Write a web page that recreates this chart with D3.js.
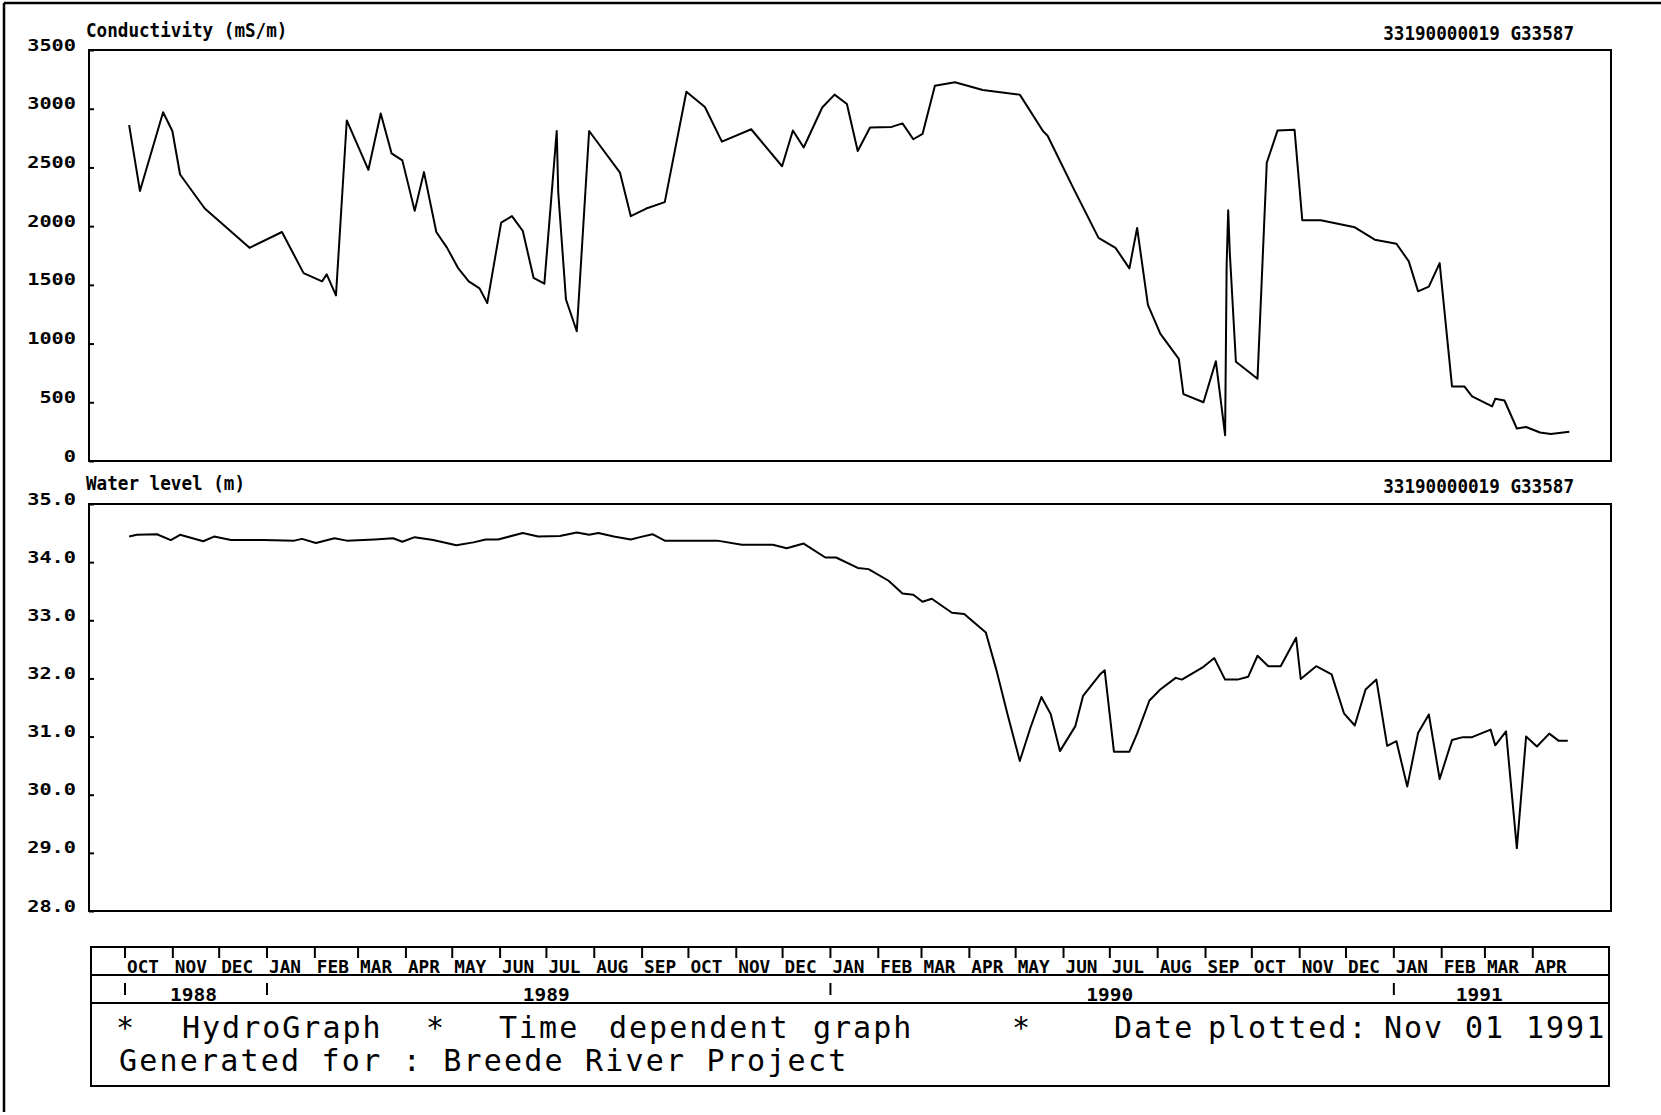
<!DOCTYPE html>
<html><head><meta charset="utf-8">
<script src="https://cdn.jsdelivr.net/npm/d3@7"></script>
<style>html,body{margin:0;padding:0;background:#fff;}svg{display:block;}</style>
</head><body>
<svg id="chart" width="1661" height="1115"></svg>
<script>
// ---------------- DATA ----------------
const condDates = [
"1988-10-04","1988-10-11","1988-10-26","1988-11-01","1988-11-06","1988-11-22","1988-12-21",
"1989-01-11","1989-01-25","1989-02-06","1989-02-09","1989-02-15","1989-02-22","1989-03-08","1989-03-16","1989-03-23","1989-03-30",
"1989-04-07","1989-04-13","1989-04-21","1989-04-28","1989-05-05","1989-05-12","1989-05-19","1989-05-24",
"1989-06-02","1989-06-09","1989-06-16","1989-06-23","1989-06-30","1989-07-08","1989-07-09","1989-07-14","1989-07-21","1989-07-29",
"1989-08-18","1989-08-25","1989-09-04","1989-09-16","1989-09-30","1989-10-12","1989-10-23","1989-11-11",
"1989-12-01","1989-12-08","1989-12-15","1989-12-27","1990-01-04","1990-01-12","1990-01-19","1990-01-27",
"1990-02-10","1990-02-17","1990-02-24","1990-03-02","1990-03-10","1990-03-23","1990-04-10","1990-05-04","1990-05-19","1990-05-22",
"1990-06-08","1990-06-24","1990-07-05","1990-07-14","1990-07-19","1990-07-26","1990-08-03","1990-08-15","1990-08-18","1990-08-31",
"1990-09-08","1990-09-14","1990-09-15","1990-09-16","1990-09-17","1990-09-21","1990-10-05","1990-10-11","1990-10-18","1990-10-29",
"1990-11-03","1990-11-15","1990-12-07","1990-12-20","1991-01-03","1991-01-11","1991-01-17","1991-01-24","1991-01-31",
"1991-02-08","1991-02-16","1991-02-21","1991-03-06","1991-03-08","1991-03-14","1991-03-22","1991-03-28","1991-04-06","1991-04-13","1991-04-25"
];
const condValues = [
2860,2300,2970,2810,2440,2150,1815,
1950,1600,1530,1590,1410,2900,2480,2960,2620,2560,
2130,2460,1950,1815,1645,1530,1470,1345,
2030,2085,1960,1560,1510,2810,2285,1375,1105,2810,
2455,2085,2150,2205,3145,3015,2720,2825,
2510,2815,2670,3010,3120,3040,2640,2840,
2845,2875,2740,2785,3195,3225,3160,3120,2810,2770,
2315,1900,1815,1640,1985,1330,1085,870,570,500,
850,220,1670,2135,1785,845,700,2540,2815,2820,
2050,2050,1990,1885,1850,1700,1445,1485,1685,
635,635,550,465,530,515,277,290,243,229,250
];
const levelDates = [
"1988-10-04","1988-10-09","1988-10-22","1988-10-31","1988-11-06","1988-11-21","1988-11-28","1988-12-09","1988-12-30",
"1989-01-19","1989-01-24","1989-02-02","1989-02-14","1989-02-22","1989-03-12","1989-03-24","1989-03-30","1989-04-07","1989-04-19",
"1989-05-04","1989-05-15","1989-05-23","1989-05-31","1989-06-16","1989-06-26","1989-07-10","1989-07-21","1989-07-29",
"1989-08-04","1989-08-14","1989-08-25","1989-08-31","1989-09-08","1989-09-16","1989-10-20","1989-11-05","1989-11-25",
"1989-12-04","1989-12-15","1989-12-29","1990-01-05","1990-01-19","1990-01-26","1990-02-08","1990-02-17","1990-02-24",
"1990-03-02","1990-03-08","1990-03-21","1990-03-29","1990-04-12","1990-04-19","1990-04-26","1990-05-04","1990-05-11",
"1990-05-18","1990-05-24","1990-05-30","1990-06-09","1990-06-14","1990-06-25","1990-06-28","1990-07-04","1990-07-14",
"1990-07-19","1990-07-27","1990-08-03","1990-08-13","1990-08-17","1990-08-31","1990-09-07","1990-09-14","1990-09-22",
"1990-09-29","1990-10-05","1990-10-12","1990-10-20","1990-10-30","1990-11-02","1990-11-12","1990-11-22","1990-11-30",
"1990-12-07","1990-12-14","1990-12-21","1990-12-28","1991-01-03","1991-01-10","1991-01-17","1991-01-24","1991-01-31",
"1991-02-08","1991-02-15","1991-02-21","1991-03-05","1991-03-08","1991-03-15","1991-03-22","1991-03-28","1991-04-04",
"1991-04-12","1991-04-18","1991-04-24"
];
const levelValues = [
34.44,34.47,34.48,34.38,34.47,34.36,34.44,34.38,34.38,
34.37,34.40,34.33,34.41,34.37,34.39,34.41,34.35,34.43,34.38,
34.29,34.34,34.39,34.39,34.50,34.44,34.45,34.51,34.47,
34.50,34.44,34.39,34.43,34.48,34.37,34.37,34.30,34.30,
34.24,34.32,34.08,34.08,33.90,33.88,33.68,33.46,33.44,
33.32,33.37,33.13,33.11,32.79,32.13,31.39,30.58,31.16,
31.68,31.39,30.75,31.18,31.70,32.07,32.14,30.74,30.74,
31.05,31.62,31.81,32.01,31.98,32.20,32.35,31.98,31.98,
32.03,32.39,32.21,32.21,32.70,31.99,32.21,32.07,31.40,
31.19,31.81,31.98,30.84,30.92,30.14,31.06,31.38,30.27,
30.94,30.99,30.99,31.12,30.85,31.09,29.08,31.00,30.83,
31.05,30.93,30.93
];
const condTicks = [0,500,1000,1500,2000,2500,3000,3500];
const levelTicks = [28,29,30,31,32,33,34,35];
const monthLabels = ["OCT","NOV","DEC","JAN","FEB","MAR","APR","MAY","JUN","JUL","AUG","SEP",
  "OCT","NOV","DEC","JAN","FEB","MAR","APR","MAY","JUN","JUL","AUG","SEP",
  "OCT","NOV","DEC","JAN","FEB","MAR","APR"];
const yearLabels = ["1988","1989","1990","1991"];
const yearStarts = ["1988-10-01","1989-01-01","1990-01-01","1991-01-01"];
const condTitle = "Conductivity (mS/m)";
const levelTitle = "Water level (m)";
const stationId = "33190000019 G33587";
const footerLine1 = "*  HydroGraph  *   Time dependent graph     *    Date plotted: Nov 01 1991";
const footerLine2 = "Generated for : Breede River Project";

// ---------------- DRAW ----------------
const parse = d3.utcParse("%Y-%m-%d");
const svg = d3.select("#chart");
const MONO = "'DejaVu Sans Mono', 'Liberation Mono', monospace";

const L = 89, R = 1611;
const x = d3.scaleUtc().domain([Date.UTC(1988,8,8), Date.UTC(1991,4,22)]).range([L, R]);
const yCond = d3.scaleLinear().domain([0,3500]).range([461,50]);
const yLevel = d3.scaleLinear().domain([28,35]).range([911,504]);

// outer frame lines
svg.append("line").attr("x1",4).attr("x2",1661).attr("y1",3).attr("y2",3).attr("stroke","#000").attr("stroke-width",2.5);
svg.append("line").attr("x1",4).attr("x2",4).attr("y1",3).attr("y2",1112).attr("stroke","#000").attr("stroke-width",2.5);

function panel(y, ticks, fmt, title, dates, values, titleY) {
  const [y0, y1] = [y.range()[1], y.range()[0]];
  svg.append("rect").attr("x",L).attr("y",y0).attr("width",R-L).attr("height",y1-y0)
    .attr("fill","none").attr("stroke","#000").attr("stroke-width",2);
  const ax = svg.append("g").attr("transform",`translate(${L},0)`)
    .call(d3.axisLeft(y).tickValues(ticks).tickFormat(fmt).tickSize(-5).tickPadding(13));
  ax.select(".domain").remove();
  ax.selectAll(".tick line").attr("stroke","#000").attr("stroke-width",2);
  ax.selectAll(".tick text").attr("dy",0).attr("fill","#000")
    .attr("font-family",MONO).attr("font-size",16.5).attr("font-weight","bold")
    .each(function(){ d3.select(this).attr("textLength", this.textContent.length*12.2).attr("lengthAdjust","spacingAndGlyphs"); });
  svg.append("text").attr("x",86).attr("y",titleY).text(title)
    .attr("font-family",MONO).attr("font-size",19).attr("font-weight","bold")
    .attr("textLength", title.length*10.6).attr("lengthAdjust","spacingAndGlyphs");
  svg.append("text").attr("x",1574).attr("y",titleY+3).attr("text-anchor","end").text(stationId)
    .attr("font-family",MONO).attr("font-size",19).attr("font-weight","bold")
    .attr("textLength", stationId.length*10.6).attr("lengthAdjust","spacingAndGlyphs");
  const pts = dates.map((d,i)=>[parse(d), values[i]]);
  svg.append("path").datum(pts)
    .attr("d", d3.line().x(d=>x(d[0])).y(d=>y(d[1])))
    .attr("fill","none").attr("stroke","#000").attr("stroke-width",2).attr("stroke-linejoin","round");
}
panel(yCond, condTicks, d3.format("d"), condTitle, condDates, condValues, 37);
panel(yLevel, levelTicks, d3.format(".1f"), levelTitle, levelDates, levelValues, 490);

// time axis box
const BT = 947, BM = 975, BY = 1003, BB = 1086, BL = 91, BR = 1609;
svg.append("rect").attr("x",BL).attr("y",BT).attr("width",BR-BL).attr("height",BB-BT)
  .attr("fill","none").attr("stroke","#000").attr("stroke-width",2);
[BM, BY].forEach(yy => svg.append("line").attr("x1",BL).attr("x2",BR).attr("y1",yy).attr("y2",yy)
  .attr("stroke","#000").attr("stroke-width",2));

const monthStarts = d3.utcMonth.range(Date.UTC(1988,9,1), Date.UTC(1991,4,1));
const mAx = svg.append("g").attr("transform",`translate(0,${BT})`)
  .call(d3.axisBottom(x).tickValues(monthStarts).tickSize(11).tickFormat((d,i)=>monthLabels[i]));
mAx.select(".domain").remove();
mAx.selectAll(".tick line").attr("stroke","#000").attr("stroke-width",2);
mAx.selectAll(".tick text").attr("text-anchor","start").attr("x",2).attr("y",BM-BT-2).attr("dy",0)
  .attr("fill","#000").attr("font-family",MONO).attr("font-size",18).attr("font-weight","bold")
  .attr("textLength",32).attr("lengthAdjust","spacingAndGlyphs");

const yStarts = yearStarts.map(parse);
const yAx = svg.append("g").attr("transform",`translate(0,983)`)
  .call(d3.axisBottom(x).tickValues(yStarts).tickSize(12).tickFormat(""));
yAx.select(".domain").remove();
yAx.selectAll(".tick line").attr("stroke","#000").attr("stroke-width",2);
const lastDate = parse(condDates[condDates.length-1]);
const yEnds = yStarts.slice(1).concat([lastDate]);
svg.append("g").selectAll("text").data(yearLabels).join("text")
  .attr("x",(d,i)=>(x(yStarts[i])+x(yEnds[i]))/2 - 2).attr("y",BY-2).attr("text-anchor","middle")
  .text(d=>d).attr("font-family",MONO).attr("font-size",17).attr("font-weight","bold")
  .attr("textLength",47).attr("lengthAdjust","spacingAndGlyphs");

// footer text: words of line 1 placed at the plotter's column positions
const wordX1 = [116, 182, 426, 499, 609, 813, 1012, 1114, 1208, 1384, 1465, 1526];
const words1 = footerLine1.split(/\s+/);
svg.append("text").attr("y",1038).attr("font-family",MONO).attr("font-size",30)
  .attr("letter-spacing",2)
  .selectAll("tspan").data(words1).join("tspan")
  .attr("x",(d,i)=>wordX1[i]).text(d=>d);
svg.append("text").attr("x",119).attr("y",1071).text(footerLine2).style("white-space","pre")
  .attr("font-family",MONO).attr("font-size",30)
  .attr("textLength",footerLine2.length*20.2).attr("lengthAdjust","spacing");
</script>
</body></html>
